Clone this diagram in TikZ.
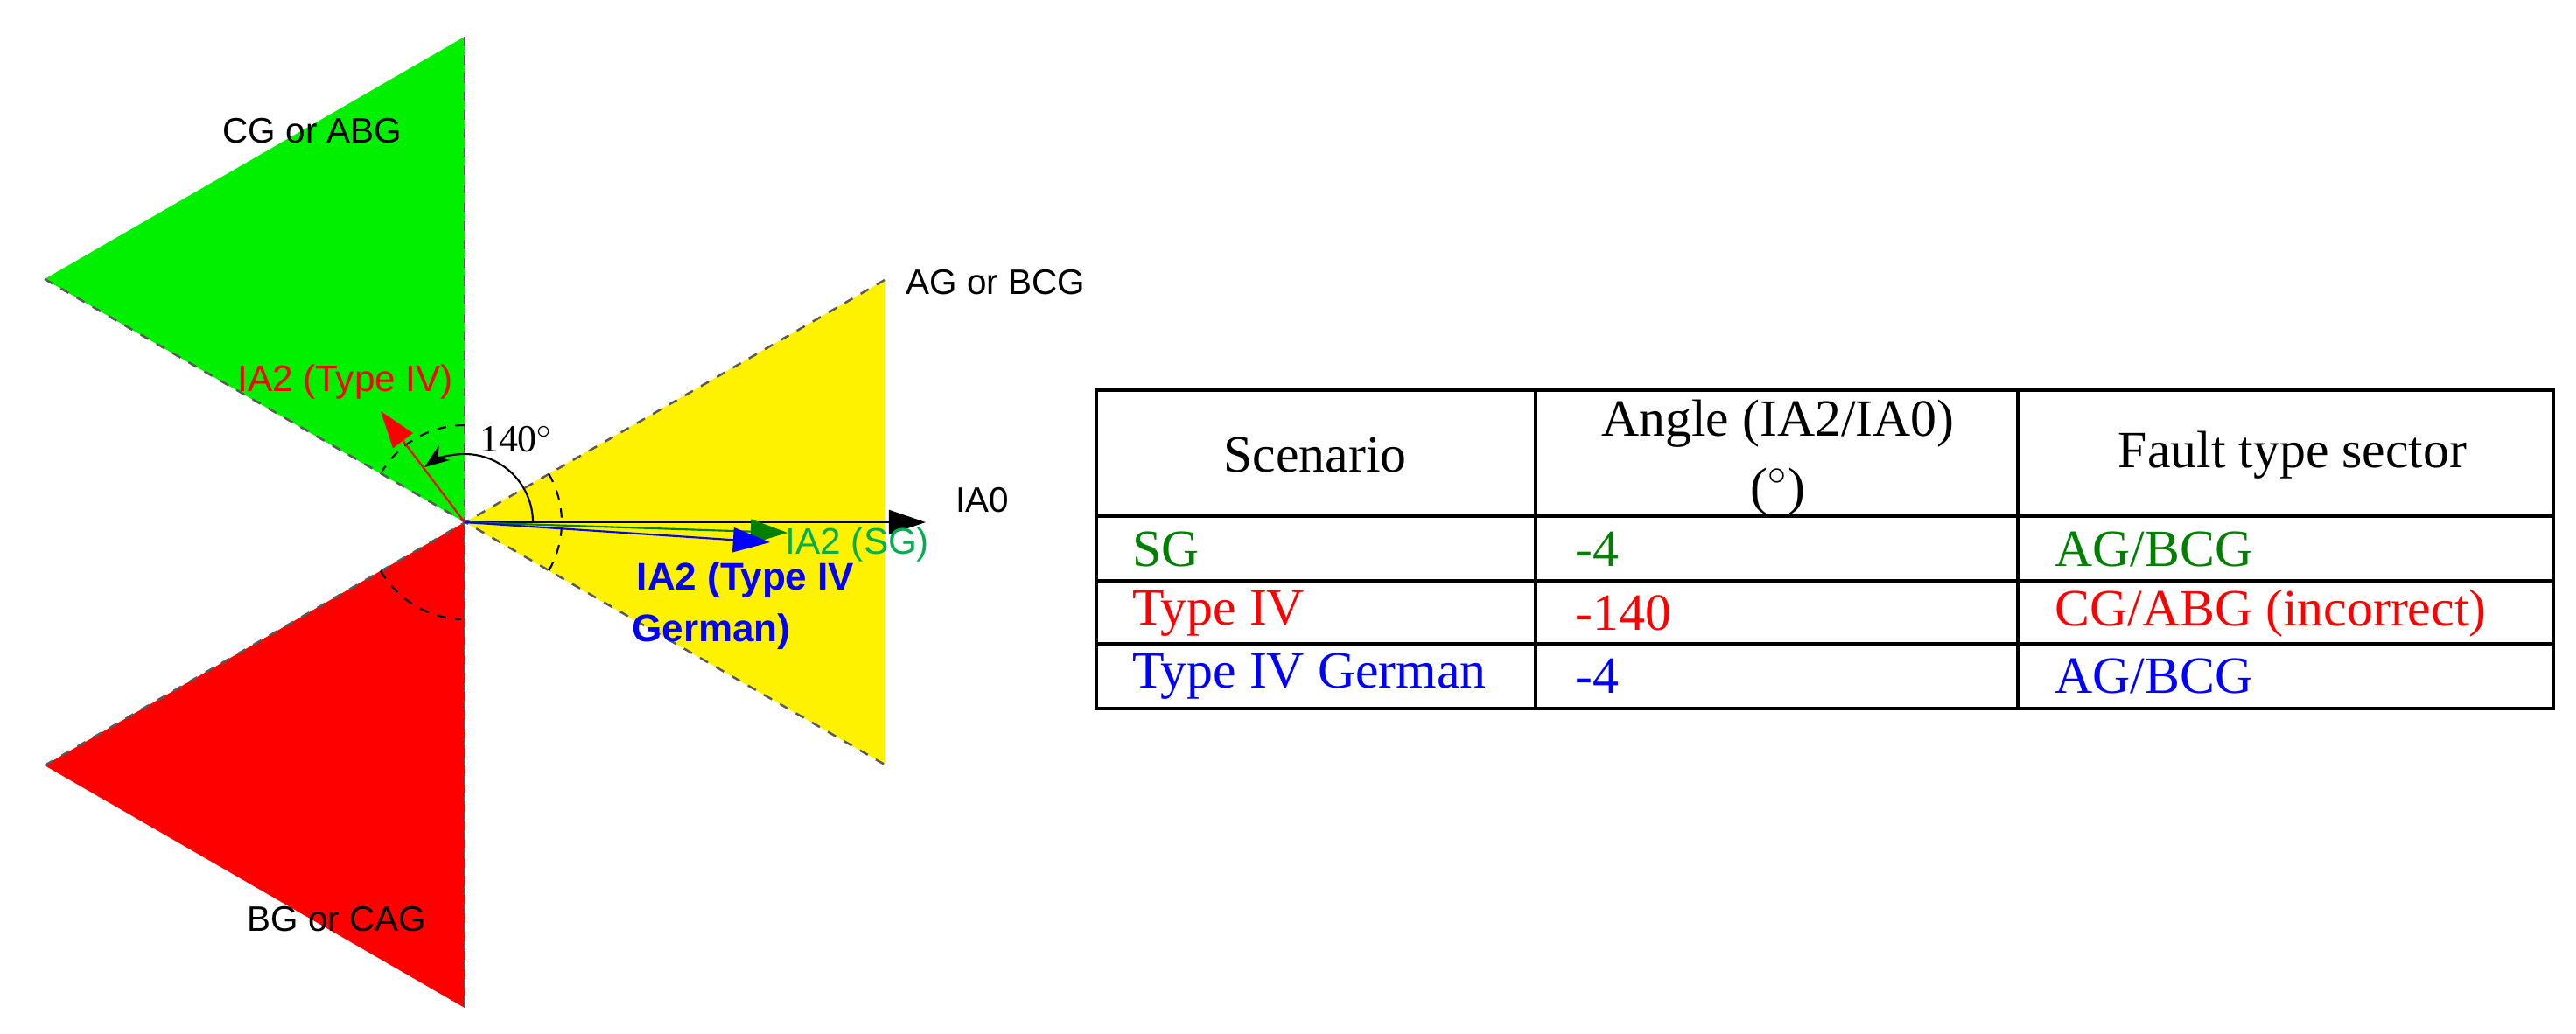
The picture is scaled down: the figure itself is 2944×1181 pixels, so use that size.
\documentclass[tikz,border=0pt]{standalone}
\usepackage{fontspec}
\setmainfont{Liberation Serif}
\setsansfont{Liberation Sans}
\usetikzlibrary{arrows.meta,calc}
\definecolor{ygreen}{RGB}{0,176,80}
\definecolor{dgreen}{RGB}{0,128,0}
\definecolor{bgreen}{RGB}{0,240,0}
\tikzset{
  secline/.style={gray!70!black,dashed,line width=0.7pt},
  lbl/.style={font=\sffamily\fontsize{11.5}{13}\selectfont},
  vec/.style={line width=0.6pt,-{Triangle[length=12pt,width=8pt]}},
  tab/.style={font=\fontsize{17}{20}\selectfont},
  tline/.style={line width=0.9pt}
}
\begin{document}
\begin{tikzpicture}[x=0.01cm,y=-0.01cm]
\useasboundingbox (0,0) rectangle (2944,1181);
\coordinate (O) at (531,597);
% sectors
\fill[bgreen] (O) -- (531,42) -- (51,319) -- cycle;
\fill[yellow] (O) -- (1011,320) -- (1011,874) -- cycle;
\fill[red] (O) -- (51,875) -- (531,1152) -- cycle;
\draw[secline] (531,42) -- (531,1152);
\draw[secline] (51,319) -- (1011,874);
\draw[secline] (1011,320) -- (51,875);
% sector labels
\node[lbl] (cg) at (357,150) {CG or ABG};
\node[lbl] (ag) at (1138,323) {AG or BCG};
\node[lbl] (bg) at (385,1051) {BG or CAG};
% dashed arcs (angles mirrored because y points down)
\draw[dashed,line width=0.6pt] ($(O)+(-90:111)$) arc[start angle=-90,end angle=-148,radius=111];
\draw[dashed,line width=0.6pt] ($(O)+(-30:111)$) arc[start angle=-30,end angle=30,radius=111];
\draw[dashed,line width=0.6pt] ($(O)+(-210:111)$) arc[start angle=-210,end angle=-268,radius=111];
% vectors
\coordinate (ia0) at (1058,597);
\coordinate (sg) at (900,609);
\coordinate (ger) at (880,620);
\coordinate (t4) at (435,470);
\draw[vec,black] (O) -- (ia0);
\draw[vec,dgreen] (O) -- (sg);
\draw[vec,blue] (O) -- (ger);
\draw[vec,red] (O) -- (t4);
\draw[line width=0.6pt,-{Stealth[length=8pt,width=6pt]}] ($(O)+(0:78)$) arc[start angle=0,end angle=-126,radius=78];
\node[font=\fontsize{12.5}{14}\selectfont] (ang) at (590,502) {140$^\circ$};
\node[lbl,anchor=west] (ia0l) at (1080,572) {IA0};
\node[lbl,ygreen,font=\sffamily\fontsize{12}{14}\selectfont] (sgl) at (980,623) {IA2 (SG)};
\node[lbl,red,font=\sffamily\fontsize{12}{14}\selectfont,anchor=east] (t4l) at (530,437) {IA2 (Type IV)};
\node[blue,font=\sffamily\bfseries\fontsize{12.5}{14}\selectfont] (gl1) at (852,663) {IA2 (Type IV};
\node[blue,font=\sffamily\bfseries\fontsize{12.5}{14}\selectfont] (gl2) at (813,722) {German)};
% table
\draw[tline] (1253,446) rectangle (2918,810);
\draw[tline] (1253,590) -- (2918,590);
\draw[tline] (1253,664) -- (2918,664);
\draw[tline] (1253,736) -- (2918,736);
\draw[tline] (1755,446) -- (1755,810);
\draw[tline] (2306,446) -- (2306,810);
\node[tab] (h1) at (1503,520) {Scenario};
\node[tab] (h2a) at (2032,484) {Angle (IA2/IA0)};
\node[tab] (h2b) at (2032,562) {($^\circ$)};
\node[tab] (h3) at (2620,520) {Fault type sector};
\node[tab,dgreen,anchor=west] (r1a) at (1282,628) {SG};
\node[tab,dgreen,anchor=west] (r1b) at (1788,628) {-4};
\node[tab,dgreen,anchor=west] (r1c) at (2336,628) {AG/BCG};
\node[tab,red,anchor=west] (r2a) at (1282,701) {Type IV};
\node[tab,red,anchor=west] (r2b) at (1788,701) {-140};
\node[tab,red,anchor=west] (r2c) at (2336,701) {CG/ABG (incorrect)};
\node[tab,blue,anchor=west] (r3a) at (1282,773) {Type IV German};
\node[tab,blue,anchor=west] (r3b) at (1788,773) {-4};
\node[tab,blue,anchor=west] (r3c) at (2336,773) {AG/BCG};
\end{tikzpicture}
\end{document}
